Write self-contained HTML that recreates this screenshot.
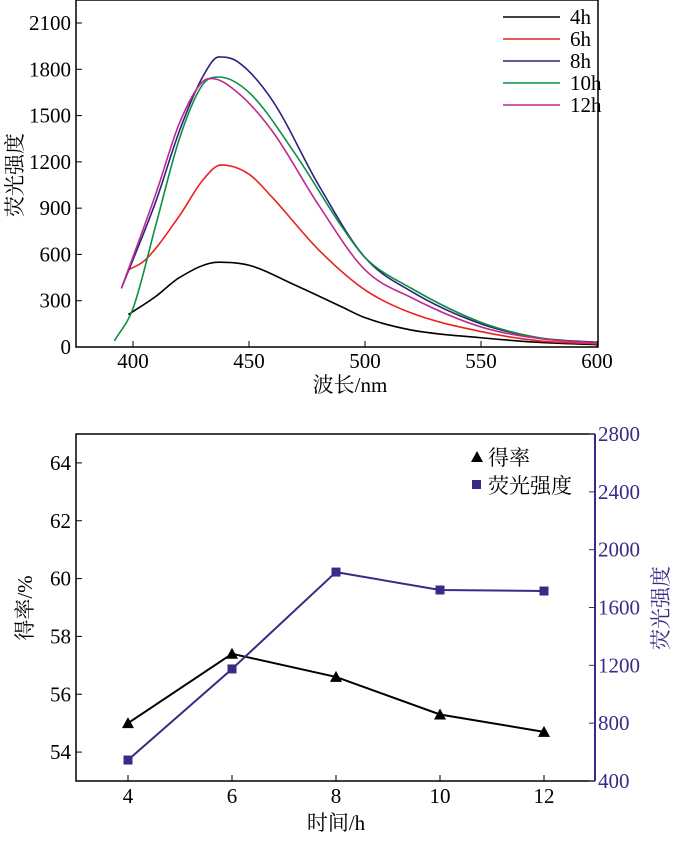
<!DOCTYPE html>
<html><head><meta charset="utf-8"><style>
html,body{margin:0;padding:0;background:#fff}
svg text{font-family:"Liberation Serif","Noto Serif CJK SC",serif;font-size:21px}
</style></head><body>
<svg id="c" width="673" height="836" viewBox="0 0 673 836" xmlns="http://www.w3.org/2000/svg">
<g id="top"></g>
<g id="bot"></g>
</svg>
<script>
// ---- top chart data ----
const seriesNames = ["4h","6h","8h","10h","12h"];
const seriesColors = ["#000000","#e8231f","#2e2080","#0a9040","#c02a8c"];
const wl4 = [398,410,420,437,450,470,490,500,520,550,575,600];
const v4  = [210,330,450,550,530,400,260,190,110,60,30,15];
const wl6 = [398,405,420,430,438,450,460,480,500,520,550,575,600];
const v6  = [500,560,850,1080,1180,1120,970,630,370,220,100,40,20];
const wl8 = [395,410,420,430,437,445,460,480,500,520,550,575,600];
const v8  = [380,950,1400,1750,1880,1850,1600,1050,580,360,150,60,30];
const wl10= [392,400,410,420,430,437,450,470,490,500,520,550,575,600];
const v10 = [40,250,800,1350,1700,1750,1650,1250,780,580,380,160,60,25];
const wl12= [395,410,420,430,434,445,460,480,500,520,550,575,600];
const v12 = [380,1000,1450,1720,1740,1650,1400,920,500,320,130,55,25];
const topXTicks = [400,450,500,550,600];
const topYTicks = [0,300,600,900,1200,1500,1800,2100];
// ---- bottom chart data ----
const hours = [4,6,8,10,12];
const yieldVals = [55.0,57.4,56.6,55.3,54.7];
const fluorVals = [545,1175,1845,1721,1714];
const botXTicks = [4,6,8,10,12];
const leftTicks = [54,56,58,60,62,64];
const rightTicks = [400,800,1200,1600,2000,2400,2800];

const NS="http://www.w3.org/2000/svg";
function mk(parent,tag,attrs,txt){const e=document.createElementNS(NS,tag);for(const k in attrs)e.setAttribute(k,attrs[k]);if(txt!==undefined)e.textContent=txt;parent.appendChild(e);return e;}

const tx=w=>133+(w-400)*2.32, ty=v=>347-v*(324/2100);
const T=document.getElementById('top');
let r=mk(T,'rect',{x:76,y:0,width:522,height:347,fill:'none',stroke:'#000','stroke-width':1.5});

topXTicks.forEach(t=>{let g=mk(T,'line',{x1:tx(t),x2:tx(t),y1:347,y2:341,stroke:'#000'});
 let l=mk(T,'text',{x:tx(t),y:368,'text-anchor':'middle'},t);});
topYTicks.forEach(t=>{let g=mk(T,'line',{x1:76,x2:82,y1:ty(t),y2:ty(t),stroke:'#000'});
 let l=mk(T,'text',{x:71,y:ty(t)+7,'text-anchor':'end'},t);});
let xt=mk(T,'text',{x:350,y:392,'text-anchor':'middle'},'波长/nm');
let yt=mk(T,'text',{x:0,y:0,'text-anchor':'middle',transform:'translate(22,175) rotate(-90)'},'荧光强度');

function monotone(pts){const n=pts.length,d=[],m=[];for(let i=0;i<n-1;i++)d.push((pts[i+1][1]-pts[i][1])/(pts[i+1][0]-pts[i][0]));
 m[0]=d[0];m[n-1]=d[n-2];for(let i=1;i<n-1;i++){m[i]=(d[i-1]*d[i]<=0)?0:(d[i-1]+d[i])/2;}
 for(let i=0;i<n-1;i++){if(d[i]===0){m[i]=0;m[i+1]=0;continue;}const a=m[i]/d[i],b=m[i+1]/d[i],s=a*a+b*b;if(s>9){const t=3/Math.sqrt(s);m[i]=t*a*d[i];m[i+1]=t*b*d[i];}}
 let p=`M${pts[0][0]},${pts[0][1]}`;for(let i=0;i<n-1;i++){const h=(pts[i+1][0]-pts[i][0])/3;p+=` C${pts[i][0]+h},${pts[i][1]+m[i]*h} ${pts[i+1][0]-h},${pts[i+1][1]-m[i+1]*h} ${pts[i+1][0]},${pts[i+1][1]}`;}return p;}
const allW=[wl4,wl6,wl8,wl10,wl12], allV=[v4,v6,v8,v10,v12];
allW.forEach((w,i)=>{const pts=w.map((x,j)=>[tx(x),ty(allV[i][j])]);
 let p=mk(T,'path',{d:monotone(pts),fill:'none',stroke:seriesColors[i],'stroke-width':1.6});
 
 const ly=17+i*22;
 let ll=mk(T,'line',{x1:503,x2:560,y1:ly,y2:ly,stroke:seriesColors[i],'stroke-width':1.6});
 let lt=mk(T,'text',{x:570,y:ly+7},seriesNames[i]);
});

const bx=h=>128+(h-4)*52, byl=v=>781-(v-53)*(347/12), byr=v=>781-(v-400)*(347/2400);
const B=document.getElementById('bot');
const purple="#3a2a86";
let f1=mk(B,'path',{d:'M595,434 L76,434 L76,781 L595,781',fill:'none',stroke:'#000','stroke-width':1.5});
let ra=mk(B,'line',{x1:595,x2:595,y1:434,y2:781,stroke:purple,'stroke-width':2});
botXTicks.forEach(t=>{let g=mk(B,'line',{x1:bx(t),x2:bx(t),y1:781,y2:775,stroke:'#000'});
 let l=mk(B,'text',{x:bx(t),y:803,'text-anchor':'middle'},t);});
leftTicks.forEach(t=>{let g=mk(B,'line',{x1:76,x2:82,y1:byl(t),y2:byl(t),stroke:'#000'});
 let l=mk(B,'text',{x:71,y:byl(t)+7,'text-anchor':'end'},t);});
rightTicks.forEach(t=>{let g=mk(B,'line',{x1:589,x2:595,y1:byr(t),y2:byr(t),stroke:purple});
 let l=mk(B,'text',{x:598,y:byr(t)+7,fill:purple},t);});
let bxt=mk(B,'text',{x:336,y:830,'text-anchor':'middle'},'时间/h');
let blt=mk(B,'text',{x:0,y:0,'text-anchor':'middle',transform:'translate(32,608) rotate(-90)'},'得率/%');
let brt=mk(B,'text',{x:0,y:0,'text-anchor':'middle',fill:purple,transform:'translate(668,608) rotate(-90)'},'荧光强度');

let yl=mk(B,'polyline',{points:hours.map((h,i)=>bx(h)+','+byl(yieldVals[i])).join(' '),fill:'none',stroke:'#000','stroke-width':2});
let fl=mk(B,'polyline',{points:hours.map((h,i)=>bx(h)+','+byr(fluorVals[i])).join(' '),fill:'none',stroke:purple,'stroke-width':2});
hours.forEach((h,i)=>{const x=bx(h),y=byl(yieldVals[i]);
 let m=mk(B,'polygon',{points:`${x},${y-6} ${x-6},${y+5} ${x+6},${y+5}`,fill:'#000'});
 const y2=byr(fluorVals[i]);
 let s=mk(B,'rect',{x:x-4.5,y:y2-4.5,width:9,height:9,fill:purple});
});
let lg1=mk(B,'polygon',{points:'477,451 471,462 483,462',fill:'#000'});
let lg1t=mk(B,'text',{x:488,y:465},'得率');
let lg2=mk(B,'rect',{x:472,y:480,width:9,height:9,fill:purple});
let lg2t=mk(B,'text',{x:488,y:493},'荧光强度');
</script>
</body></html>
